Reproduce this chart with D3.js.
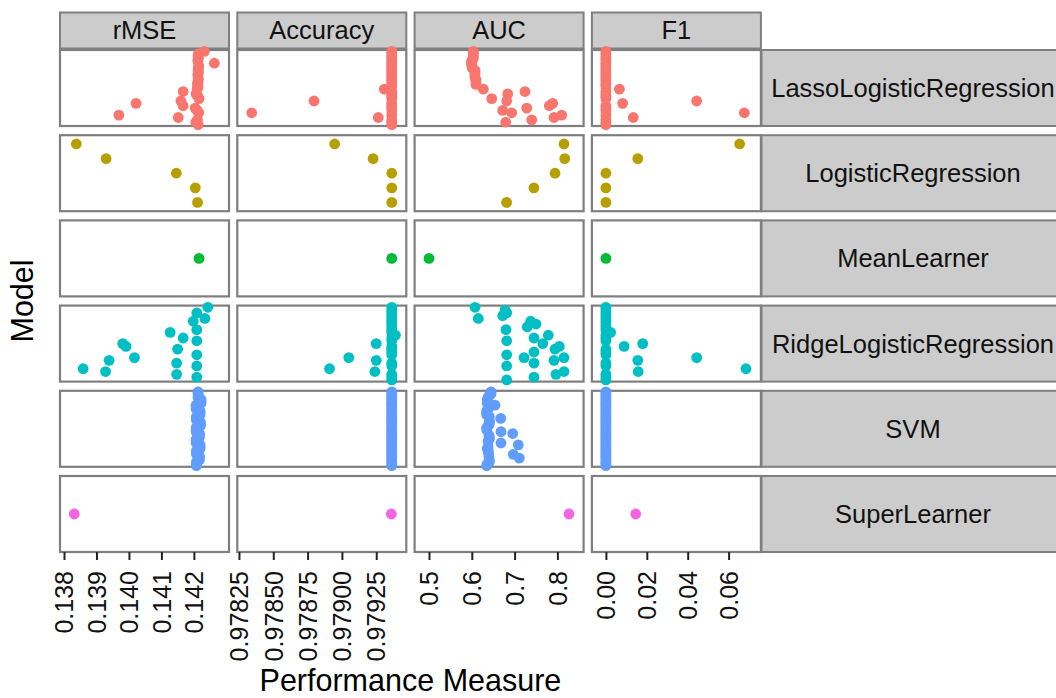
<!DOCTYPE html>
<html>
<head>
<meta charset="utf-8">
<script src="https://cdn.jsdelivr.net/npm/d3@7"></script>
<style>
body { margin: 0; background: #fff; }
svg { display: block; font-family: "Liberation Sans", Arial, Helvetica, sans-serif; }
</style>
</head>
<body>
<div id="chart"></div>
<script>
// facet rows and columns
var models = ["LassoLogisticRegression", "LogisticRegression", "MeanLearner",
    "RidgeLogisticRegression", "SVM", "SuperLearner"];
var measures = ["rMSE", "Accuracy", "AUC", "F1"];
var modelColors = ["#F8766D", "#B79F00", "#00BA38", "#00BFC4", "#619CFF", "#F564E3"];
// number of discrete y levels in each model row
var levelCounts = [32, 5, 1, 27, 40, 1];

// x axis ticks and ranges per measure
var rmseTicks = [0.138, 0.139, 0.140, 0.141, 0.142];
var accuracyTicks = [0.97825, 0.97850, 0.97875, 0.97900, 0.97925];
var aucTicks = [0.5, 0.6, 0.7, 0.8];
var f1Ticks = [0.00, 0.02, 0.04, 0.06];
var rmseDomain = [0.137877, 0.143082];
var accuracyDomain = [0.978238, 0.979469];
var aucDomain = [0.46636, 0.86121];
var f1Domain = [-0.006846, 0.075795];

// [level, value] pairs, level 0 = top of the panel
var lassoRmse = [[0, 0.14232], [1, 0.14214], [2, 0.14213], [3, 0.14214], [4, 0.14212], [5, 0.14263],
    [6, 0.14215], [7, 0.14214], [8, 0.14213], [9, 0.14214], [10, 0.14212], [11, 0.14213], [12, 0.14214],
    [13, 0.14212], [14, 0.14211], [15, 0.14213], [16, 0.14210], [17, 0.14167], [18, 0.14207], [19, 0.14212],
    [20, 0.14216], [21, 0.14160], [22, 0.14022], [23, 0.14167], [24, 0.14204], [25, 0.14210], [26, 0.14215],
    [27, 0.13969], [28, 0.14152], [29, 0.14211], [30, 0.14206], [31, 0.14213]];
var lassoAccuracy = [[0, 0.979363], [1, 0.979363], [2, 0.979363], [3, 0.979363], [4, 0.979363], [5, 0.979363],
    [6, 0.979363], [7, 0.979363], [8, 0.979363], [9, 0.979363], [10, 0.979363], [11, 0.979363], [12, 0.979363],
    [13, 0.979363], [14, 0.979363], [15, 0.979363], [16, 0.979309], [17, 0.979363], [18, 0.979363], [19, 0.979363],
    [20, 0.979363], [21, 0.978797], [22, 0.979363], [23, 0.979363], [24, 0.979363], [25, 0.979363], [26, 0.978343],
    [27, 0.979363], [28, 0.979265], [29, 0.979363], [30, 0.979363], [31, 0.979363]];
var lassoAuc = [[0, 0.6035], [1, 0.6035], [2, 0.6035], [3, 0.6035], [4, 0.5998], [5, 0.5990], [6, 0.5998],
    [7, 0.6010], [8, 0.6075], [9, 0.6075], [10, 0.6070], [11, 0.6075], [12, 0.6098], [13, 0.6098], [14, 0.6098],
    [16, 0.6269], [17, 0.7243], [18, 0.6839], [20, 0.6465], [21, 0.6815], [22, 0.7890], [23, 0.7811],
    [24, 0.7283], [25, 0.6722], [26, 0.6932], [27, 0.8100], [28, 0.7921], [29, 0.7400], [30, 0.6792]];
var lassoF1 = [[0, 0], [1, 0], [2, 0], [3, 0], [4, 0], [5, 0], [6, 0], [7, 0], [8, 0], [9, 0], [10, 0], [11, 0],
    [12, 0], [13, 0], [14, 0], [15, 0], [16, 0.0066], [17, 0], [18, 0], [19, 0], [20, 0], [21, 0.0444],
    [22, 0.0082], [23, 0], [24, 0], [25, 0], [26, 0.0677], [27, 0], [28, 0.0134], [29, 0], [30, 0], [31, 0]];

var logisticRmse = [[0, 0.138379], [1, 0.139297], [2, 0.141459], [3, 0.142044], [4, 0.142112]];
var logisticAccuracy = [[0, 0.978947], [1, 0.979227], [2, 0.979363], [3, 0.979363], [4, 0.979363]];
var logisticAuc = [[0, 0.8154], [1, 0.8171], [2, 0.7944], [3, 0.7451], [4, 0.6813]];
var logisticF1 = [[0, 0.0654], [1, 0.0156], [2, 0], [3, 0], [4, 0]];

var meanRmse = [[0, 0.14216]];
var meanAccuracy = [[0, 0.979363]];
var meanAuc = [[0, 0.5]];
var meanF1 = [[0, 0]];

var ridgeRmse = [[0, 0.14243], [2, 0.14209], [4, 0.14234], [5, 0.14198], [8, 0.14209], [9, 0.14127],
    [11, 0.14167], [12, 0.14209], [13, 0.13981], [14, 0.13991], [15, 0.14150], [17, 0.14209], [18, 0.14017],
    [19, 0.13939], [20, 0.14147], [21, 0.14209], [22, 0.13859], [23, 0.13928], [24, 0.14147], [25, 0.14209]];
var ridgeAccuracy = [[0, 0.979363], [1, 0.979363], [2, 0.979363], [3, 0.979363], [4, 0.979363], [5, 0.979363],
    [6, 0.979363], [7, 0.979363], [8, 0.979363], [9, 0.979363], [10, 0.97939], [11, 0.979363], [12, 0.979363],
    [13, 0.97925], [14, 0.979363], [15, 0.979363], [16, 0.979363], [17, 0.979363], [18, 0.97905], [19, 0.97925],
    [20, 0.979363], [21, 0.979363], [22, 0.97891], [23, 0.97924], [24, 0.979363], [25, 0.979363], [26, 0.979363]];
var ridgeAuc = [[0, 0.6075], [1, 0.6776], [2, 0.6815], [3, 0.6722], [4, 0.6152], [5, 0.7376], [6, 0.7500],
    [7, 0.7297], [8, 0.6799], [10, 0.7787], [11, 0.7453], [12, 0.6815], [13, 0.7657], [14, 0.8044],
    [15, 0.7944], [16, 0.7453], [17, 0.6815], [18, 0.7220], [18, 0.8154], [19, 0.7921], [20, 0.7453],
    [21, 0.6815], [23, 0.8154], [24, 0.7967], [25, 0.7453], [26, 0.6815]];
var ridgeF1 = [[0, 0], [1, 0], [2, 0], [3, 0], [4, 0], [5, 0], [6, 0], [7, 0], [8, 0], [9, 0.0023], [10, 0],
    [11, 0], [12, 0], [13, 0.0180], [14, 0.0089], [15, 0], [16, 0], [17, 0], [18, 0.0444], [19, 0.0156],
    [20, 0], [21, 0], [22, 0.0685], [23, 0.0158], [24, 0], [25, 0], [26, 0]];

var svmRmse = [[0, 0.14213], [1, 0.14213], [2, 0.14213], [3, 0.14213], [4, 0.14222], [5, 0.14222], [6, 0.14222],
    [7, 0.14207], [8, 0.14207], [9, 0.14207], [10, 0.14219], [11, 0.14219], [12, 0.14219], [13, 0.14208],
    [14, 0.14208], [15, 0.14208], [16, 0.14220], [17, 0.14220], [18, 0.14220], [19, 0.14207], [20, 0.14207],
    [21, 0.14207], [22, 0.14217], [23, 0.14217], [24, 0.14217], [25, 0.14207], [26, 0.14207], [27, 0.14207],
    [28, 0.14219], [29, 0.14219], [30, 0.14219], [31, 0.14208], [32, 0.14208], [33, 0.14208], [34, 0.14217],
    [35, 0.14217], [36, 0.14217], [37, 0.14208], [38, 0.14208], [39, 0.14208]];
var svmAccuracy = [[0, 0.979363], [1, 0.979363], [2, 0.979363], [3, 0.979363], [4, 0.979363], [5, 0.979363],
    [6, 0.979363], [7, 0.979363], [8, 0.979363], [9, 0.979363], [10, 0.979363], [11, 0.979363], [12, 0.979363],
    [13, 0.979363], [14, 0.979363], [15, 0.979363], [16, 0.979363], [17, 0.979363], [18, 0.979363],
    [19, 0.979363], [20, 0.979363], [21, 0.979363], [22, 0.979363], [23, 0.979363], [24, 0.979363],
    [25, 0.979363], [26, 0.979363], [27, 0.979363], [28, 0.979363], [29, 0.979363], [30, 0.979363],
    [31, 0.979363], [32, 0.979363], [33, 0.979363], [34, 0.979363], [35, 0.979363], [36, 0.979363],
    [37, 0.979363], [38, 0.979363], [39, 0.979363]];
var svmAuc = [[0, 0.6449], [1, 0.6449], [2, 0.6400], [3, 0.6380], [4, 0.6362], [5, 0.6362], [6, 0.6362],
    [7, 0.6542], [8, 0.6400], [9, 0.6380], [10, 0.6348], [11, 0.6348], [12, 0.6348], [13, 0.6409], [14, 0.6675],
    [15, 0.6409], [16, 0.6409], [17, 0.6409], [18, 0.6380], [19, 0.6348], [20, 0.6348], [21, 0.6682],
    [22, 0.6956], [23, 0.6400], [24, 0.6409], [25, 0.6409], [26, 0.6380], [27, 0.6682], [28, 0.7086],
    [29, 0.6380], [30, 0.6362], [31, 0.6385], [32, 0.6385], [33, 0.6970], [34, 0.6400], [35, 0.7110],
    [36, 0.6409], [37, 0.6409], [38, 0.6362], [39, 0.6348]];
var svmF1 = [[0, 0], [1, 0], [2, 0], [3, 0], [4, 0], [5, 0], [6, 0], [7, 0], [8, 0], [9, 0], [10, 0], [11, 0],
    [12, 0], [13, 0], [14, 0], [15, 0], [16, 0], [17, 0], [18, 0], [19, 0], [20, 0], [21, 0], [22, 0], [23, 0],
    [24, 0], [25, 0], [26, 0], [27, 0], [28, 0], [29, 0], [30, 0], [31, 0], [32, 0], [33, 0], [34, 0], [35, 0],
    [36, 0], [37, 0], [38, 0], [39, 0]];

var superRmse = [[0, 0.138317]];
var superAccuracy = [[0, 0.97936]];
var superAuc = [[0, 0.8271]];
var superF1 = [[0, 0.01457]];

(function () {
    "use strict";
    var width = 1056;
    var height = 698;
    var panelLeft = 60;
    var panelPitchX = 177.3;
    var panelWidth = 169;
    var panelTop = 50;
    var panelPitchY = 85.2;
    var panelHeight = 76;
    var borderColor = "#7f7f7f";
    var stripFill = "#cccccc";

    var panelData = [
        [lassoRmse, lassoAccuracy, lassoAuc, lassoF1],
        [logisticRmse, logisticAccuracy, logisticAuc, logisticF1],
        [meanRmse, meanAccuracy, meanAuc, meanF1],
        [ridgeRmse, ridgeAccuracy, ridgeAuc, ridgeF1],
        [svmRmse, svmAccuracy, svmAuc, svmF1],
        [superRmse, superAccuracy, superAuc, superF1]
    ];
    var domains = [rmseDomain, accuracyDomain, aucDomain, f1Domain];
    var ticks = [rmseTicks, accuracyTicks, aucTicks, f1Ticks];
    var formats = [d3.format(".3f"), d3.format(".5f"), d3.format(".1f"), d3.format(".2f")];

    var svg = d3.select("#chart").append("svg")
        .attr("width", width)
        .attr("height", height);

    var xScales = measures.map(function (m, j) {
        var x0 = panelLeft + j * panelPitchX;
        return d3.scaleLinear().domain(domains[j]).range([x0, x0 + panelWidth]);
    });
    var yScales = models.map(function (m, i) {
        var y0 = panelTop + i * panelPitchY;
        return d3.scalePoint().domain(d3.range(levelCounts[i]))
            .range([y0, y0 + panelHeight]).padding(0.6);
    });

    // top strips
    var topStrip = svg.append("g").selectAll("g")
        .data(measures)
        .enter().append("g");
    topStrip.append("rect")
        .attr("x", function (d, j) { return panelLeft + j * panelPitchX; })
        .attr("y", 12.5)
        .attr("width", panelWidth)
        .attr("height", 36)
        .attr("fill", stripFill)
        .attr("stroke", borderColor)
        .attr("stroke-width", 2);
    topStrip.append("text")
        .attr("x", function (d, j) { return panelLeft + j * panelPitchX + panelWidth / 2; })
        .attr("y", 30.5)
        .attr("dy", "0.35em")
        .attr("text-anchor", "middle")
        .attr("font-size", 25.5)
        .attr("fill", "#111")
        .text(function (d) { return d; });

    // right strips
    var rightStrip = svg.append("g").selectAll("g")
        .data(models)
        .enter().append("g");
    rightStrip.append("rect")
        .attr("x", 761.5)
        .attr("y", function (d, i) { return panelTop + i * panelPitchY; })
        .attr("width", 310)
        .attr("height", panelHeight)
        .attr("fill", stripFill)
        .attr("stroke", borderColor)
        .attr("stroke-width", 2);
    rightStrip.append("text")
        .attr("x", 913)
        .attr("y", function (d, i) { return panelTop + i * panelPitchY + panelHeight / 2; })
        .attr("dy", "0.35em")
        .attr("text-anchor", "middle")
        .attr("font-size", 25.5)
        .attr("fill", "#111")
        .text(function (d) { return d; });

    // panel boxes
    var cells = [];
    models.forEach(function (m, i) {
        measures.forEach(function (k, j) {
            cells.push({row: i, col: j});
        });
    });
    svg.append("g").selectAll("rect")
        .data(cells)
        .enter().append("rect")
        .attr("x", function (d) { return panelLeft + d.col * panelPitchX; })
        .attr("y", function (d) { return panelTop + d.row * panelPitchY; })
        .attr("width", panelWidth)
        .attr("height", panelHeight)
        .attr("fill", "#fff")
        .attr("stroke", borderColor)
        .attr("stroke-width", 2.2);

    // points (not clipped, drawn over borders like the original)
    var points = [];
    panelData.forEach(function (row, i) {
        row.forEach(function (series, j) {
            series.forEach(function (p) {
                points.push({row: i, col: j, level: p[0], value: p[1]});
            });
        });
    });
    svg.append("g").selectAll("circle")
        .data(points)
        .enter().append("circle")
        .attr("cx", function (d) { return xScales[d.col](d.value); })
        .attr("cy", function (d) { return yScales[d.row](d.level); })
        .attr("r", 5.4)
        .attr("fill", function (d) { return modelColors[d.row]; });

    // bottom axes
    var axisY = panelTop + (models.length - 1) * panelPitchY + panelHeight;
    measures.forEach(function (m, j) {
        var g = svg.append("g")
            .attr("class", "x axis")
            .attr("transform", "translate(0," + axisY + ")")
            .call(d3.axisBottom(xScales[j]).tickValues(ticks[j]).tickFormat(formats[j]).tickSize(8));
        g.select(".domain").remove();
        g.selectAll(".tick line").attr("stroke", "#222").attr("stroke-width", 2);
        g.selectAll(".tick text")
            .attr("transform", "rotate(-90)")
            .attr("text-anchor", "end")
            .attr("x", -19)
            .attr("y", 0)
            .attr("dy", "0.35em")
            .attr("font-size", 25)
            .attr("font-family", "Liberation Sans, Arial, sans-serif")
            .attr("fill", "#111");
    });

    svg.append("text")
        .attr("x", panelLeft + (3 * panelPitchX + panelWidth) / 2)
        .attr("y", 691)
        .attr("text-anchor", "middle")
        .attr("font-size", 30.5)
        .attr("fill", "#000")
        .text("Performance Measure");

    svg.append("text")
        .attr("transform", "translate(33," + (panelTop + (5 * panelPitchY + panelHeight) / 2) + ") rotate(-90)")
        .attr("text-anchor", "middle")
        .attr("font-size", 30.5)
        .attr("fill", "#000")
        .text("Model");
}());
</script>
</body>
</html>
